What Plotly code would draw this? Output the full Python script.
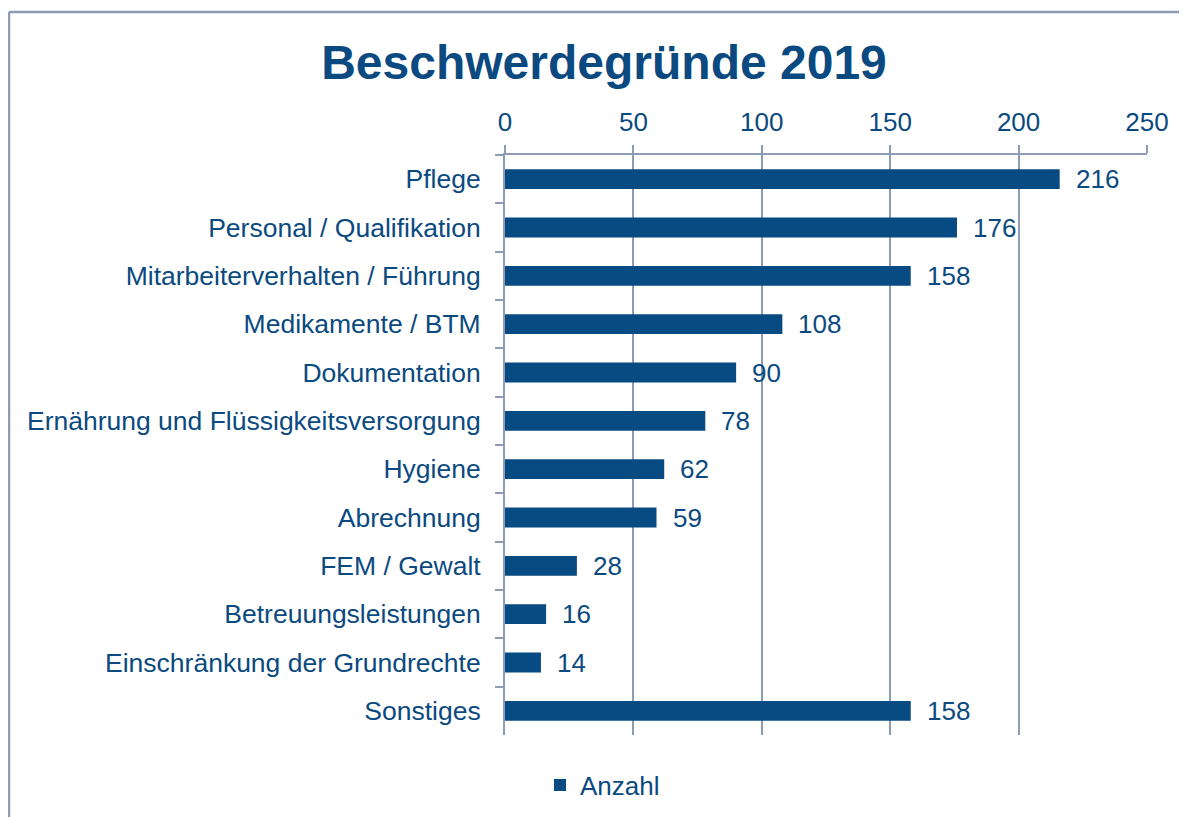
import plotly.graph_objects as go

categories = [
    "Pflege",
    "Personal / Qualifikation",
    "Mitarbeiterverhalten / Führung",
    "Medikamente / BTM",
    "Dokumentation",
    "Ernährung und Flüssigkeitsversorgung",
    "Hygiene",
    "Abrechnung",
    "FEM / Gewalt",
    "Betreuungsleistungen",
    "Einschränkung der Grundrechte",
    "Sonstiges",
]
anzahl = [216, 176, 158, 108, 90, 78, 62, 59, 28, 16, 14, 158]
x_ticks = [0, 50, 100, 150, 200, 250]

W, H = 1195, 817
ML, MR, MT, MB = 497, 56, 147, 90
TXT = "#0B4A80"
BAR = "#084A82"
LINE = "#8E9BB5"
FONT = "Liberation Sans, Arial, sans-serif"

fig = go.Figure()
fig.add_trace(go.Bar(
    x=anzahl, y=categories, orientation="h", name="Anzahl",
    marker=dict(color=BAR, line=dict(width=0)), width=0.41,
    showlegend=True,
))

for c, v in zip(categories, anzahl):
    fig.add_annotation(x=v, y=c, text=str(v), showarrow=False,
                       xanchor="left", yanchor="middle", xshift=14,
                       font=dict(size=26, color=TXT, family=FONT))

pw = W - ML - MR
ph = H - MT - MB
def px(xp):
    return (xp - ML) / pw
def py(yp):
    return (H - MB - yp) / ph

# chart frame (left and top border)
fig.add_shape(type="line", xref="paper", yref="paper",
              x0=px(1), x1=px(1), y0=py(H + 5), y1=py(4),
              line=dict(color=LINE, width=2.5))
fig.add_shape(type="line", xref="paper", yref="paper",
              x0=px(1), x1=px(W + 5), y0=py(4), y1=py(4),
              line=dict(color=LINE, width=2.5))

fig.update_layout(
    width=W, height=H,
    margin=dict(l=ML, r=MR, t=MT, b=MB, pad=0),
    paper_bgcolor="white", plot_bgcolor="white",
    font=dict(family=FONT, color=TXT, size=26),
    title=dict(text="<b>Beschwerdegründe 2019</b>", x=596 / W, xref="container",
               xanchor="center", y=1 - 54 / H, yref="container", yanchor="middle",
               font=dict(size=48, color=TXT, family=FONT)),
    xaxis=dict(side="top", range=[0, 250], tickvals=x_ticks,
               showgrid=True, gridcolor=LINE, gridwidth=2,
               showline=True, linecolor=LINE, linewidth=2,
               ticks="outside", ticklen=8, tickcolor=LINE, tickwidth=2,
               ticklabelstandoff=4,
               tickfont=dict(size=26, color=TXT), zeroline=False),
    yaxis=dict(autorange="reversed", showline=True, linecolor=LINE, linewidth=2,
               ticks="outside", ticklen=8, tickcolor=LINE, tickwidth=2,
               tickson="boundaries", showgrid=False, ticklabelstandoff=17,
               tickfont=dict(size=26.5, color=TXT)),
    legend=dict(orientation="h", x=px(532), xanchor="left", y=py(777), yanchor="middle",
                font=dict(size=26, color=TXT), itemwidth=30, bgcolor="rgba(0,0,0,0)"),
    bargap=0.6,
)

fig.write_html("out.html")
